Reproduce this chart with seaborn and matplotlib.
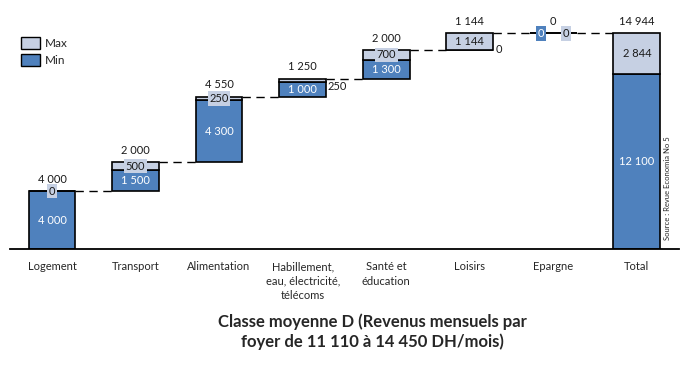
import numpy as np
import matplotlib
matplotlib.use("Agg")
import matplotlib.pyplot as plt
from matplotlib.patches import Patch
import seaborn as sns

# ==========================================
# Data
# ==========================================

categories = ["Logement", "Transport", "Alimentation",
              "Habillement,\neau, électricité,\ntélécoms",
              "Santé et\néducation", "Loisirs", "Epargne", "Total"]
min_vals = [4000, 1500, 4300, 1000, 1300, 0, 0, 12100]
max_vals = [0, 500, 250, 250, 700, 1144, 0, 2844]

title = "Classe moyenne D (Revenus mensuels par\nfoyer de 11 110 à 14 450 DH/mois)"
source = "Source : Revue Economia No 5"

# ==========================================
# Waterfall bases
# ==========================================

min_arr = np.array(min_vals)
max_arr = np.array(max_vals)
steps = min_arr + max_arr
tops = np.cumsum(steps)
tops[-1] = steps[-1]
bases = tops - steps
bases[-1] = 0

BLUE = "#4F81BD"
LIGHT = "#C6D0E3"
FS = 8


def fmt(v):
    return f"{v:,}".replace(",", " ")


sns.set_style("white")
plt.rcParams["font.family"] = ["Lato", "DejaVu Sans"]

fig = plt.figure(figsize=(6.89, 3.66), dpi=100)
ax = fig.add_axes([10.2 / 689, 117 / 366, 668.4 / 689, 230.9 / 366])

width = 0.56

sns.barplot(x=categories, y=min_vals, bottom=bases, color=BLUE,
            saturation=1, width=width, edgecolor="black", linewidth=1.2,
            errorbar=None, ax=ax, zorder=2)
sns.barplot(x=categories, y=max_vals, bottom=bases + min_arr, color=LIGHT,
            saturation=1, width=width, edgecolor="black", linewidth=1.2,
            errorbar=None, ax=ax, zorder=2)

# connectors
for i in range(len(categories) - 1):
    ax.plot([i + width / 2, i + 1 - width / 2], [tops[i], tops[i]],
            color="black", lw=1, dashes=(6, 4), zorder=1)

# ==========================================
# Labels
# ==========================================

outside_max = {3}

for i in range(len(categories)):
    # total labels
    ax.annotate(fmt(steps[i]), (i, tops[i]), xytext=(0, 8.5),
                textcoords="offset points", ha="center", va="center",
                fontsize=FS, color="#1a1a1a")

    mn, mx = min_vals[i], max_vals[i]
    if mn == 0 and mx == 0:
        ax.annotate("0", (i, tops[i]), xytext=(-9, 0), textcoords="offset points",
                    ha="center", va="center", fontsize=FS, color="white",
                    bbox=dict(boxstyle="square,pad=0.15", fc=BLUE, ec="none"),
                    zorder=4)
        ax.annotate("0", (i, tops[i]), xytext=(9, 0), textcoords="offset points",
                    ha="center", va="center", fontsize=FS, color="#1a1a1a",
                    bbox=dict(boxstyle="square,pad=0.15", fc=LIGHT, ec="none"),
                    zorder=4)
        continue

    if mn > 0:
        ax.text(i, bases[i] + mn / 2, fmt(mn), ha="center", va="center",
                fontsize=FS, color="white", zorder=4)
    else:
        ax.annotate("0", (i + width / 2, bases[i]), xytext=(4, 0),
                    textcoords="offset points", ha="center", va="center",
                    fontsize=FS, color="#1a1a1a", zorder=4)

    if i in outside_max:
        ax.annotate(fmt(mx), (i + width / 2 - 0.05, bases[i] + mn + mx),
                    xytext=(i + width / 2 + 0.13, bases[i] + mn - 300),
                    ha="center", va="center", fontsize=FS, color="#1a1a1a",
                    arrowprops=dict(arrowstyle="-", lw=0.6, color="#333333",
                                    linestyle=(0, (1, 1))),
                    zorder=4)
    else:
        ax.text(i, bases[i] + mn + mx / 2, fmt(mx), ha="center", va="center",
                fontsize=FS, color="#1a1a1a", zorder=4,
                bbox=dict(boxstyle="square,pad=0.15", fc=LIGHT, ec="none"))

# ==========================================
# Axes styling
# ==========================================

ax.set_xlim(-0.5, len(categories) - 0.5)
ax.set_ylim(0, 16000)
ax.set_yticks([])
ax.set_xticks(range(len(categories)))
ax.set_xticklabels(categories, fontsize=FS, va="top", linespacing=1.35)
ax.tick_params(axis="x", length=0, pad=9)
for side in ["top", "right", "left"]:
    ax.spines[side].set_visible(False)
ax.spines["bottom"].set_color("black")
ax.spines["bottom"].set_linewidth(1.3)
ax.set_xlabel("")
ax.set_ylabel("")

fig.legend(handles=[Patch(fc=LIGHT, ec="black", lw=1, label="Max"),
                    Patch(fc=BLUE, ec="black", lw=1, label="Min")],
           loc="upper left", bbox_to_anchor=(21 / 689, 1 - 37 / 366),
           frameon=False, fontsize=8.5, handlelength=1.6, handleheight=1.15,
           handletextpad=0.4, labelspacing=0.45, borderaxespad=0, borderpad=0)

fig.text(372 / 689, 1 - 332 / 366, title, ha="center", va="center",
         fontsize=12, fontweight="bold", linespacing=1.25)
fig.text(667 / 689, 1 - 188.5 / 366, source, rotation=90, ha="center",
         va="center", fontsize=5.5)

fig.savefig("out.png", dpi=100)
